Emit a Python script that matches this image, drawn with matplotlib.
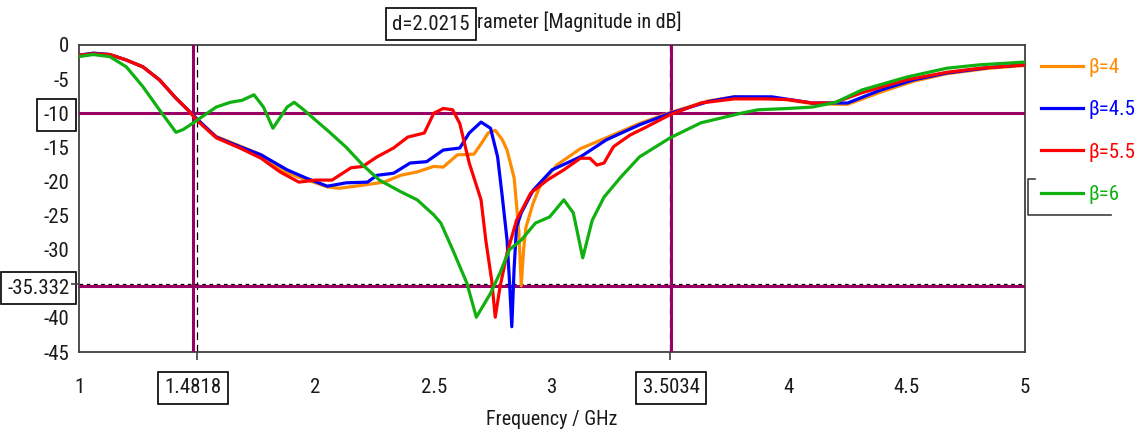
import matplotlib
matplotlib.use("Agg")
import matplotlib.pyplot as plt
from matplotlib import font_manager
from matplotlib.lines import Line2D

installed = {f.name for f in font_manager.fontManager.ttflist}
NARROW = None
for cand in ['Roboto Condensed', 'Liberation Sans Narrow', 'Open Sans Condensed', 'DejaVu Sans Condensed']:
    if cand in installed:
        NARROW = cand
        break
if NARROW:
    plt.rcParams['font.family'] = [NARROW, 'DejaVu Sans']
    TICK_FS, TITLE_FS, LEG_FS, XL_FS = 15, 14.5, 15, 14.5
else:
    plt.rcParams['font.family'] = ['Liberation Sans', 'DejaVu Sans']
    TICK_FS, TITLE_FS, LEG_FS, XL_FS = 13.5, 12, 13.5, 13
plt.rcParams['lines.scale_dashes'] = False

# data (frequency in GHz, S11 in dB)
f_b4 = [1.0, 1.06, 1.13, 1.20, 1.27, 1.34, 1.41, 1.46, 1.48, 1.51, 1.58, 1.68, 1.77, 1.86, 1.93,
        2.0, 2.05, 2.10, 2.19, 2.29, 2.36, 2.43, 2.50, 2.54, 2.60, 2.67, 2.70, 2.73, 2.76, 2.79,
        2.81, 2.84, 2.86, 2.87, 2.88, 2.89, 2.92, 2.95, 3.02, 3.12, 3.23, 3.37, 3.5, 3.66, 3.77,
        3.93, 4.10, 4.25, 4.39, 4.53, 4.67, 4.85, 5.0]
s_b4 = [-1.5, -1.2, -1.4, -2.2, -3.2, -5.1, -7.8, -9.5, -10.2, -11.3, -13.4, -14.8, -16.1, -18.4, -19.4,
        -20.2, -20.8, -21.0, -20.6, -20.1, -19.1, -18.6, -17.8, -17.9, -16.1, -16.0, -14.5, -12.9, -12.5, -13.9,
        -15.4, -19.5, -27.4, -35.3, -30.0, -26.7, -23.2, -20.6, -17.6, -15.2, -13.6, -11.5, -9.9, -8.2, -7.6,
        -7.7, -8.6, -8.7, -6.9, -5.3, -4.2, -3.4, -3.0]

f_b45 = [1.0, 1.06, 1.13, 1.20, 1.27, 1.34, 1.41, 1.46, 1.48, 1.51, 1.58, 1.68, 1.77, 1.88, 1.96,
         2.05, 2.13, 2.22, 2.26, 2.33, 2.40, 2.47, 2.54, 2.61, 2.65, 2.70, 2.74, 2.77, 2.79, 2.81,
         2.82, 2.83, 2.84, 2.85, 2.87, 2.92, 3.0, 3.12, 3.23, 3.37, 3.5, 3.66, 3.77, 3.93, 4.10,
         4.25, 4.39, 4.53, 4.67, 4.85, 5.0]
s_b45 = [-1.5, -1.2, -1.4, -2.2, -3.2, -5.1, -7.8, -9.5, -10.2, -11.2, -13.5, -14.9, -16.1, -18.3, -19.5,
         -20.7, -20.2, -20.1, -19.1, -18.8, -17.3, -17.1, -15.4, -15.1, -12.9, -11.3, -12.2, -16.4, -22.3, -28.6,
         -34.5, -41.3, -32.6, -26.7, -24.6, -21.3, -18.3, -16.4, -13.9, -11.7, -10.0, -8.3, -7.6, -7.6, -8.5,
         -8.5, -6.6, -5.1, -4.1, -3.3, -2.9]

f_b55 = [1.0, 1.06, 1.13, 1.20, 1.27, 1.34, 1.41, 1.46, 1.48, 1.51, 1.58, 1.68, 1.77, 1.85, 1.93,
         2.0, 2.07, 2.15, 2.2, 2.26, 2.33, 2.39, 2.46, 2.5, 2.54, 2.58, 2.61, 2.65, 2.70, 2.72,
         2.745, 2.76, 2.78, 2.81, 2.85, 2.91, 2.98, 3.05, 3.12, 3.16, 3.19, 3.22, 3.26, 3.33, 3.40,
         3.5, 3.63, 3.77, 3.9, 4.0, 4.1, 4.19, 4.31, 4.5, 4.67, 4.81, 5.0]
s_b55 = [-1.5, -1.3, -1.4, -2.2, -3.2, -5.1, -7.8, -9.5, -10.3, -11.4, -13.6, -15.1, -16.6, -18.6, -20.1,
         -19.8, -19.8, -18.0, -17.8, -16.4, -15.1, -13.5, -12.9, -10.0, -9.3, -9.5, -11.5, -17.3, -22.7, -28.6,
         -34.5, -39.9, -35.5, -30.5, -25.7, -21.7, -19.8, -18.3, -16.6, -16.6, -17.6, -17.3, -14.9, -13.2, -12.0,
         -10.2, -8.5, -7.9, -7.9, -8.0, -8.5, -8.5, -7.0, -5.1, -4.0, -3.4, -2.9]

f_b6 = [1.0, 1.06, 1.13, 1.20, 1.27, 1.34, 1.41, 1.44, 1.48, 1.50, 1.58, 1.64, 1.69, 1.74, 1.78,
        1.82, 1.88, 1.91, 1.95, 2.01, 2.06, 2.13, 2.20, 2.27, 2.36, 2.43, 2.50, 2.53, 2.58, 2.64,
        2.68, 2.74, 2.78, 2.82, 2.87, 2.93, 2.99, 3.05, 3.09, 3.13, 3.17, 3.22, 3.29, 3.37, 3.5,
        3.63, 3.80, 3.87, 4.0, 4.10, 4.20, 4.31, 4.50, 4.67, 4.81, 5.0]
s_b6 = [-1.7, -1.4, -1.7, -3.2, -6.1, -9.5, -12.8, -12.4, -11.5, -11.0, -9.1, -8.4, -8.1, -7.3, -9.1,
        -12.2, -9.1, -8.4, -9.5, -11.3, -12.8, -15.0, -17.6, -19.8, -21.5, -22.7, -24.9, -26.1, -30.0, -34.9,
        -39.9, -36.4, -33.4, -30.0, -28.6, -26.1, -25.2, -22.7, -24.6, -31.2, -25.7, -22.3, -19.4, -16.4, -13.6,
        -11.4, -10.0, -9.5, -9.3, -9.1, -8.4, -6.6, -4.7, -3.4, -2.9, -2.5]

labels = ['\u03b2=4', '\u03b2=4.5', '\u03b2=5.5', '\u03b2=6']
colors = ['#ff8c00', '#0000ff', '#ff0000', '#10b010']

x_marks = [1.4818, 3.5034]
y_marks = [-10, -35.332]
x_ticks = [1, 1.4818, 2, 2.5, 3, 3.5034, 4, 4.5, 5]
x_ticklabels = ['1', '1.4818', '2', '2.5', '3', '3.5034', '4', '4.5', '5']
y_ticks = [0, -5, -10, -15, -20, -25, -30, -35.332, -40, -45]
y_ticklabels = ['0', '-5', '-10', '-15', '-20', '-25', '-30', '-35.332', '-40', '-45']
CURSOR = '#990066'
TXT = '#1a1a1a'

fig = plt.figure(figsize=(11.4, 4.41), dpi=100)
ax = fig.add_axes([79 / 1140, 89 / 441, 946 / 1140, 307 / 441])

lines = []
for f, s, c, lab in zip([f_b4, f_b45, f_b55, f_b6], [s_b4, s_b45, s_b55, s_b6], colors, labels):
    ln, = ax.plot(f, s, color=c, lw=2.3, label=lab, zorder=4)
    lines.append(ln)

for xm in x_marks:
    ax.axvline(xm, color=CURSOR, lw=2.2, zorder=3)
for ym in y_marks:
    ax.axhline(ym, color=CURSOR, lw=2.2, zorder=3)

ax.set_xlim(1, 5)
ax.set_ylim(-45, 0)

# labelled ticks (no marks) + minor ticks for marks and grid
ax.set_xticks(x_ticks)
ax.set_xticklabels(x_ticklabels)
ax.set_yticks(y_ticks)
ax.set_yticklabels(y_ticklabels)
ax.set_xticks([1 + 0.5 * i for i in range(9)], minor=True)
ax.set_yticks([-5 * i for i in range(10)], minor=True)
ax.tick_params(which='major', length=0, labelsize=TICK_FS, colors=TXT)
ax.tick_params(axis='x', which='major', pad=19)
ax.tick_params(axis='y', which='major', pad=7)
ax.tick_params(which='minor', length=6, width=1.2, color='#404040')

ax.xaxis.grid(True, which='minor', color='black', lw=0.9, linestyle=(0, (5.5, 3.5)))
ax.yaxis.grid(True, which='minor', color='black', lw=0.9, linestyle=(0, (2.6, 2.6)))
ax.xaxis.grid(False, which='major')
ax.yaxis.grid(False, which='major')
ax.set_axisbelow(True)

for sp in ax.spines.values():
    sp.set_color('#404040')
    sp.set_linewidth(1.3)

for lab in ax.get_xticklabels() + ax.get_yticklabels():
    if lab.get_text() in ('1.4818', '3.5034', '-10', '-35.332'):
        lab.set_bbox(dict(boxstyle='square,pad=0.3', fc='white', ec='black', lw=1.2))

ax.set_xlabel('Frequency / GHz', fontsize=XL_FS, color=TXT, labelpad=9)

fig.text(477 / 1140, 1 - 22 / 441, 'rameter [Magnitude in dB]', fontsize=TITLE_FS, color=TXT,
         ha='left', va='center')
fig.text(431 / 1140, 1 - 24 / 441, 'd=2.0215', fontsize=TICK_FS, color=TXT, ha='center', va='center',
         bbox=dict(boxstyle='square,pad=0.3', fc='white', ec='black', lw=1.2))

leg = fig.legend(handles=lines, loc='upper left', bbox_to_anchor=(1041 / 1140, 1 - 58 / 441),
                 frameon=False, fontsize=LEG_FS, handlelength=2.0, handletextpad=0.3,
                 labelspacing=1.12, borderpad=0, borderaxespad=0)
for txt, c in zip(leg.get_texts(), colors):
    txt.set_color(c)

# small bracket next to the last legend entry
bx = [1035, 1028, 1028, 1111]
by = [179, 179, 215, 215]
fig.add_artist(Line2D([v / 1140 for v in bx], [1 - v / 441 for v in by],
                      transform=fig.transFigure, color='#404040', lw=1.2))

fig.savefig('out.png', dpi=100)
